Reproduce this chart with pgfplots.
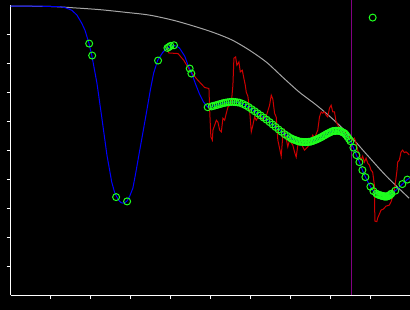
\documentclass[border=0pt]{standalone}
\usepackage{pgfplots}
\pgfplotsset{compat=1.18}
\definecolor{cgray}{RGB}{165,165,165}
\definecolor{cred}{RGB}{205,0,0}
\definecolor{cblue}{RGB}{0,0,255}
\definecolor{cgreen}{RGB}{30,255,30}
\definecolor{cpurple}{RGB}{130,0,130}
\begin{document}
\begin{tikzpicture}
\fill[black] (-10.7bp,-15bp) rectangle (399.3bp,295bp);
\begin{axis}[
  at={(0,0)}, anchor=south west,
  scale only axis, width=399.3bp, height=289.7bp,
  xmin=0, xmax=10, ymin=0, ymax=10,
  axis x line=bottom, axis y line=left,
  axis line style={white, line width=1bp, -},
  xtick={1,...,9}, ytick={1,...,9},
  xticklabels={}, yticklabels={},
  ticklabel style={inner sep=0pt, outer sep=0pt, font=\tiny},
  tick align=outside, major tick length=4bp,
  tick style={white, line width=1bp},
  clip=false,
]
% vertical marker
\addplot[cpurple, line width=1bp] coordinates {(8.525,0) (8.525,10.18)};
% gray curve
\addplot[cgray, line width=1bp, smooth] coordinates {
(0,9.97) (0.98,9.96) (1.61,9.91) (2.23,9.85) (2.86,9.76) (3.48,9.66) (4.11,9.47)
(4.73,9.22) (5.16,9.02) (5.56,8.79) (5.98,8.45) (6.41,8.03) (6.81,7.52) (7.23,7.00)
(7.66,6.55) (8.06,6.08) (8.51,5.48) (8.91,4.86) (9.41,4.10) (9.98,3.34)};
% red noisy series
\addplot[cred, line width=1bp] coordinates {
(3.90,8.562) (3.958,8.355) (4.19,8.334) (4.333,8.103) (4.483,7.759) (4.65,7.472)
(4.733,7.345) (4.858,7.162) (4.965,7.128) (4.983,6.379) (5.013,5.459) (5.05,5.345)
(5.065,5.690) (5.108,5.862) (5.15,6.034) (5.19,5.966) (5.233,5.690) (5.275,5.631)
(5.315,6.103) (5.358,6.034) (5.40,6.276) (5.44,6.483) (5.525,6.621) (5.565,7.241)
(5.59,8.172) (5.633,8.217) (5.665,7.931) (5.715,8.045) (5.75,7.700) (5.80,7.759)
(5.833,7.528) (5.875,7.241) (5.90,7.0) (5.94,6.862) (5.983,6.379) (6.025,5.631)
(6.065,5.862) (6.108,6.148) (6.15,6.034) (6.233,6.207) (6.315,6.034) (6.40,6.172)
(6.483,6.552) (6.525,6.897) (6.565,6.759) (6.608,6.276) (6.65,6.138) (6.69,5.345)
(6.733,5.069) (6.775,4.793) (6.815,5.517) (6.858,5.690) (6.94,5.114) (6.983,5.345)
(7.065,5.172) (7.108,4.941) (7.15,4.759) (7.19,5.172) (7.275,5.241) (7.315,5.114)
(7.358,5.0) (7.44,5.114) (7.525,5.345) (7.565,5.517) (7.608,5.414) (7.69,5.690)
(7.733,6.148) (7.775,6.321) (7.815,6.276) (7.858,6.321) (7.90,6.207) (7.94,6.148)
(7.983,6.448) (8.025,6.552) (8.065,6.321) (8.108,6.321) (8.15,5.976) (8.233,5.759)
(8.275,5.586) (8.358,5.690) (8.40,5.517) (8.483,5.459) (8.565,5.345) (8.608,5.414)
(8.65,5.241) (8.69,5.0) (8.733,4.828) (8.775,4.655) (8.815,4.793) (8.858,4.586)
(8.90,4.724) (8.94,4.552) (8.983,4.483) (9.025,4.310) (9.065,4.241) (9.108,3.793)
(9.12,2.552) (9.17,2.534) (9.19,2.655) (9.233,2.793) (9.275,2.931) (9.333,2.966)
(9.40,3.069) (9.483,3.103) (9.525,3.217) (9.565,3.390) (9.608,3.621) (9.65,4.034)
(9.675,4.310) (9.69,4.586) (9.733,4.655) (9.775,4.931) (9.815,5.0) (9.858,4.914)
(9.90,4.941) (9.94,4.897) (9.983,4.828)};
% blue curve
\addplot[cblue, line width=1bp] coordinates {
(0,9.97) (0.73,9.97) (1.23,9.95) (1.36,9.92) (1.53,9.83) (1.66,9.66) (1.78,9.38)
(1.86,9.14) (1.96,8.69) (2.03,8.28) (2.16,7.31) (2.28,6.14) (2.41,4.83) (2.53,3.90)
(2.60,3.55) (2.65,3.41) (2.70,3.28) (2.76,3.19) (2.81,3.17) (2.86,3.19) (2.91,3.24)
(2.98,3.41) (3.06,3.69) (3.13,4.20) (3.21,4.83) (3.31,5.60) (3.41,6.38) (3.50,7.10)
(3.58,7.66) (3.68,8.10) (3.81,8.38) (3.91,8.52) (4.06,8.62) (4.16,8.59) (4.23,8.52)
(4.36,8.24) (4.43,7.97) (4.53,7.66) (4.63,7.28) (4.73,6.93) (4.83,6.66) (4.933,6.483)
(5.033,6.510) (5.133,6.548) (5.233,6.586) (5.333,6.628) (5.433,6.652) (5.533,6.669)
(5.633,6.659) (5.733,6.638) (5.808,6.597) (5.883,6.548) (5.958,6.486) (6.033,6.414)
(6.108,6.345) (6.183,6.272) (6.258,6.200) (6.333,6.124) (6.408,6.052) (6.483,5.969)
(6.558,5.886) (6.633,5.800) (6.708,5.714) (6.783,5.634) (6.858,5.552) (6.933,5.486)
(7.008,5.421) (7.083,5.366) (7.158,5.331) (7.233,5.293) (7.308,5.283) (7.383,5.279)
(7.458,5.286) (7.533,5.303) (7.608,5.341) (7.683,5.383) (7.758,5.434) (7.833,5.493)
(7.908,5.552) (7.983,5.603) (8.058,5.655) (8.133,5.666) (8.208,5.669) (8.283,5.638)
(8.358,5.586) (8.433,5.462) (8.508,5.310) (8.583,5.086) (8.658,4.828) (8.733,4.586)
(8.808,4.310) (8.883,4.069) (9.008,3.741) (9.083,3.586) (9.158,3.500) (9.233,3.448)
(9.333,3.410) (9.433,3.403) (9.533,3.497) (9.633,3.600) (9.808,3.828) (9.933,3.983)
(9.983,4.03)};
% green markers
\addplot[only marks, mark=o, mark size=3.5bp, mark options={cgreen, line width=1bp}] coordinates {
(1.965,8.679) (2.04,8.266) (2.64,3.379) (2.915,3.231) (3.69,8.093) (3.925,8.528)
(3.965,8.562) (4.0,8.597) (4.09,8.621) (4.483,7.817) (4.525,7.645) (9.065,9.576)
(4.933,6.483) (5.033,6.510) (5.133,6.548) (5.233,6.586) (5.333,6.628) (5.433,6.652)
(5.533,6.669) (5.633,6.659) (5.733,6.638) (5.808,6.597) (5.883,6.548) (5.958,6.486)
(6.033,6.414) (6.108,6.345) (6.183,6.272) (6.258,6.200) (6.333,6.124) (6.408,6.052)
(6.483,5.969) (6.558,5.886) (6.633,5.800) (6.708,5.714) (6.783,5.634) (6.858,5.552)
(6.933,5.486) (7.008,5.421) (7.083,5.366) (7.158,5.331) (7.233,5.293) (7.308,5.283)
(7.383,5.279) (7.458,5.286) (7.533,5.303) (7.608,5.341) (7.683,5.383) (7.758,5.434)
(7.833,5.493) (7.908,5.552) (7.983,5.603) (8.058,5.655) (8.133,5.666) (8.208,5.669)
(8.283,5.638) (8.358,5.586) (8.433,5.462) (8.508,5.310) (8.583,5.086) (8.658,4.828)
(8.733,4.586) (8.808,4.310) (8.883,4.069) (9.008,3.741) (9.083,3.586) (9.158,3.500)
(9.233,3.448) (9.283,3.428) (9.333,3.410) (9.383,3.400) (9.433,3.403) (9.483,3.438)
(9.533,3.497) (9.633,3.600) (9.808,3.828) (9.933,3.983)
(5.083,6.53) (5.183,6.567) (5.283,6.607) (5.383,6.640) (5.483,6.660) (5.583,6.664)
(5.683,6.648) (7.045,5.39) (7.12,5.35) (7.195,5.31) (7.27,5.29) (7.345,5.28)
(7.42,5.28) (7.495,5.29) (7.57,5.32) (7.645,5.36) (7.72,5.41) (7.795,5.46)
(7.87,5.52) (7.945,5.58) (8.02,5.63) (8.095,5.66) (8.17,5.67) (8.245,5.66)
(8.32,5.61) (8.395,5.53) (8.47,5.39) (9.19,3.47) (9.26,3.44) (9.31,3.42)
(9.36,3.40) (9.41,3.40) (9.46,3.42) (9.51,3.47)};
\end{axis}
\pgfresetboundingbox
\path[use as bounding box] (-10.7bp,-15bp) rectangle (399.3bp,295bp);
\end{tikzpicture}
\end{document}
